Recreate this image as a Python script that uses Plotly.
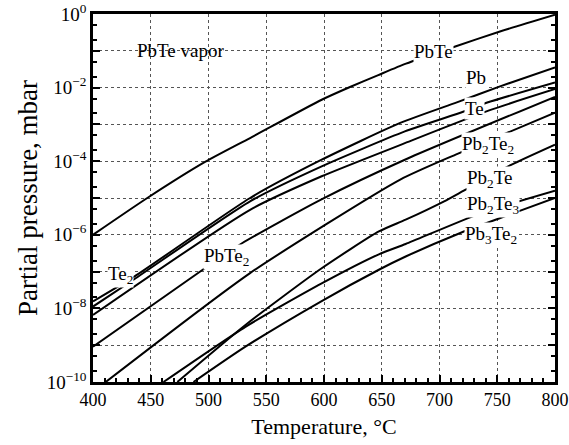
import plotly.graph_objects as go

# Temperature (deg C) and log10(partial pressure / mbar)
T_PbTe = [400, 447, 497, 536, 598, 622, 647, 671, 713, 753, 800]
L_PbTe = [-6.0, -5.0, -4.02, -3.37, -2.33, -1.99, -1.66, -1.35, -0.89, -0.47, -0.02]

T_Pb = [400, 436, 536, 598, 666, 715, 753, 800]
L_Pb = [-7.81, -7.13, -5.0, -3.96, -2.96, -2.40, -1.96, -1.45]

T_Te = [400, 436, 536, 598, 670, 721, 742, 800]
L_Te = [-7.95, -7.2, -5.09, -4.14, -3.19, -2.65, -2.40, -1.86]

T_Te2 = [400, 536, 598, 670, 743, 800]
L_Te2 = [-8.18, -5.32, -4.41, -3.51, -2.62, -2.04]

T_PbTe2 = [400, 499, 529, 597, 670, 800]
L_PbTe2 = [-9.04, -6.86, -6.23, -5.05, -3.96, -2.25]

T_Pb2Te2 = [411, 536, 666, 714, 800]
L_Pb2Te2 = [-10.0, -7.04, -4.5, -3.82, -2.68]

T_Pb2Te = [473, 532, 598, 647.5, 670.7, 704, 721, 762, 800]
L_Pb2Te = [-10.0, -8.45, -6.91, -5.91, -5.59, -5.09, -4.80, -4.1, -3.55]

T_Pb2Te3 = [461, 532, 598, 647.5, 670.7, 736, 800]
L_Pb2Te3 = [-10.0, -8.50, -7.32, -6.53, -6.25, -5.41, -4.8]

T_Pb3Te2 = [487, 532, 598, 647.5, 670.7, 718, 760, 800]
L_Pb3Te2 = [-10.0, -9.04, -7.80, -6.95, -6.59, -5.95, -5.46, -5.0]

curves = [
    (T_PbTe, L_PbTe), (T_Pb, L_Pb), (T_Te, L_Te), (T_Te2, L_Te2),
    (T_PbTe2, L_PbTe2), (T_Pb2Te2, L_Pb2Te2), (T_Pb2Te, L_Pb2Te),
    (T_Pb2Te3, L_Pb2Te3), (T_Pb3Te2, L_Pb3Te2),
]

# labels: (text, T, log10 p, with white background)
labels = [
    ("PbTe vapor", 476, -0.99, False),
    ("PbTe", 695, -1.02, True),
    ("Pb", 731.5, -1.73, True),
    ("Te", 730.6, -2.57, True),
    ("Pb<sub>2</sub>Te<sub>2</sub>", 742, -3.55, True),
    ("Pb<sub>2</sub>Te", 743.6, -4.47, True),
    ("Pb<sub>2</sub>Te<sub>3</sub>", 746, -5.18, True),
    ("Pb<sub>3</sub>Te<sub>2</sub>", 744.5, -6.0, True),
    ("Te<sub>2</sub>", 423.4, -7.09, True),
    ("PbTe<sub>2</sub>", 515.4, -6.6, True),
]

x_tickvals = [400, 450, 500, 550, 600, 650, 700, 750, 800]
y_exps = list(range(0, -11, -1))
y_tickvals = [10.0 ** e for e in y_exps]
y_ticktext = [("10<sup>%s</sup>" % (str(e).replace("-", "\u2212")) if e % 2 == 0 else "") for e in y_exps]

FONT = "Liberation Serif"

fig = go.Figure()
for T, L in curves:
    fig.add_trace(go.Scatter(
        x=T, y=[10.0 ** v for v in L], mode="lines",
        line=dict(color="black", width=2, shape="spline", smoothing=0.6),
        showlegend=False, hoverinfo="skip"))

for text, t, lv, bg in labels:
    fig.add_annotation(
        x=t, y=lv, xref="x", yref="y", text=text, showarrow=False,
        font=dict(family=FONT, size=19, color="black"),
        bgcolor="white" if bg else None, borderpad=0)

fig.update_layout(
    width=569, height=445,
    margin=dict(l=93, r=14, t=14, b=63),
    paper_bgcolor="white", plot_bgcolor="white",
    font=dict(family=FONT, size=19, color="black"),
    showlegend=False,
)
fig.update_xaxes(
    range=[400, 800], tickvals=x_tickvals,
    ticks="inside", ticklen=7, tickwidth=1.5, tickcolor="black",
    minor=dict(dtick=10, ticks="inside", ticklen=4, tickcolor="black", showgrid=False),
    showline=True, linewidth=2.5, linecolor="black", mirror=True,
    showgrid=True, gridcolor="#555", griddash="dot", gridwidth=1,
    zeroline=False, automargin=False, ticklabeloverflow="allow",
    title=dict(text="Temperature, \u00b0C", font=dict(family=FONT, size=22), standoff=10),
    tickfont=dict(family=FONT, size=18),
)
fig.update_yaxes(
    type="log", range=[-10, 0], tickvals=y_tickvals, ticktext=y_ticktext,
    ticks="inside", ticklen=7, tickwidth=1.5, tickcolor="black",
    minor=dict(ticks="inside", ticklen=4, tickcolor="black", showgrid=False),
    showline=True, linewidth=2.5, linecolor="black", mirror="ticks",
    showgrid=True, gridcolor="#555", griddash="dot", gridwidth=1,
    zeroline=False, automargin=False, ticklabeloverflow="allow",
    title=dict(text="Partial pressure, mbar", font=dict(family=FONT, size=27), standoff=2),
    tickfont=dict(family=FONT, size=19),
)

fig.write_html("out.html")
